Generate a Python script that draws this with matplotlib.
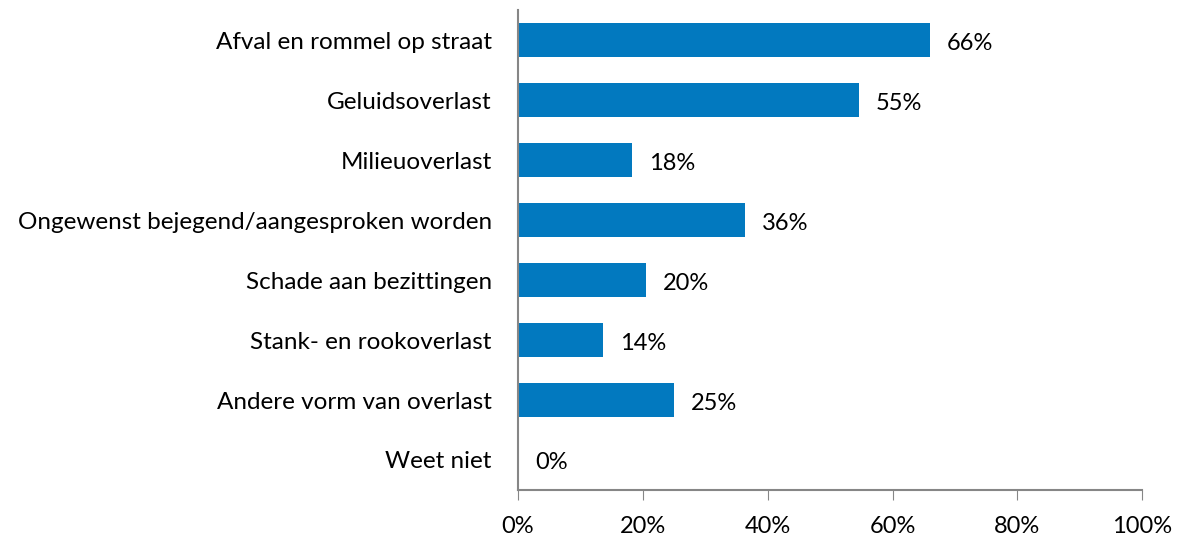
import matplotlib.pyplot as plt
from matplotlib.ticker import FuncFormatter

categories = ['Afval en rommel op straat', 'Geluidsoverlast', 'Milieuoverlast',
              'Ongewenst bejegend/aangesproken worden', 'Schade aan bezittingen',
              'Stank- en rookoverlast', 'Andere vorm van overlast', 'Weet niet']
values = [66, 54.6, 18.3, 36.4, 20.5, 13.6, 25.0, 0]
xticks = [0, 20, 40, 60, 80, 100]

plt.rcParams['font.family'] = ['Lato', 'DejaVu Sans']

fig = plt.figure(figsize=(11.8, 5.39), dpi=100)
ax = fig.add_axes([0.439, 0.091, 0.529, 0.890])

pos = range(len(categories))
ax.barh(pos, values, height=0.57, color='#0279BF')
for i, v in zip(pos, values):
    ax.text(v + 2.7, i + 0.05, f'{round(v)}%', va='center', ha='left', fontsize=17, color='black')

ax.set_ylim(len(categories) - 0.5, -0.5)
ax.set_xlim(0, 100)
ax.set_yticks(list(pos))
ax.set_yticklabels(categories, fontsize=17.5)
ax.set_xticks(xticks)
ax.xaxis.set_major_formatter(FuncFormatter(lambda x, _: f'{x:.0f}%'))
ax.tick_params(axis='x', labelsize=17, length=7, color='#868686', pad=12)
ax.tick_params(axis='y', length=0, pad=19)

for s in ['top', 'right']:
    ax.spines[s].set_visible(False)
for s in ['left', 'bottom']:
    ax.spines[s].set_color('#868686')
    ax.spines[s].set_linewidth(1.5)

fig.savefig('out.png', dpi=100)
